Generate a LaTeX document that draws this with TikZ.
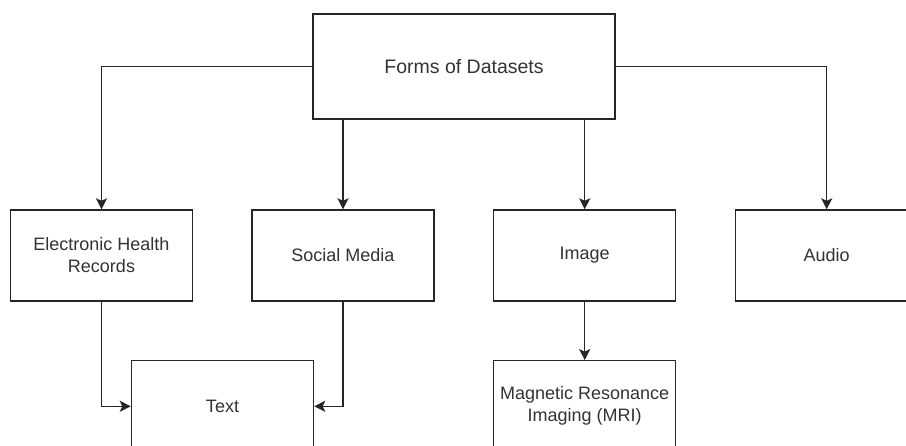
\documentclass[tikz,border=0pt]{standalone}
\usepackage{fontspec}
\setmainfont{Liberation Sans}
\usetikzlibrary{arrows.meta}

\begin{document}
\begin{tikzpicture}[x=1pt,y=-1pt,
    box/.style={draw=black!85,line width=1.4pt,fill=white,text=black!80,
        minimum width=182pt,minimum height=91pt,align=center,
        font=\fontsize{18}{22}\selectfont},
    arr/.style={draw=black!85,line width=1.4pt,
        -{Stealth[length=11pt,width=11pt,inset=2.5pt]}}]

\useasboundingbox (0,0) rectangle (906,446);

\begin{scope}
\clip (0,0) rectangle (906,446);

\node[box,minimum width=302pt,minimum height=105pt,
      font=\fontsize{19.5}{23}\selectfont] (forms) at (464,66.5) {Forms of Datasets};

\node[box] (ehr) at (101.5,255.5) {Electronic Health\\Records};
\node[box] (social) at (343,255.5) {Social Media};
\node[box] (image) at (584.7,255.5) {Image};
\node[box] (audio) at (826.7,255.5) {Audio};

\node[box] (text) at (222.5,406.3) {Text};
\node[box] (mri) at (584.7,406.3) {Magnetic Resonance\\Imaging (MRI)};

\draw[arr] (forms.west) -| (ehr.north);
\draw[arr] (social.north |- forms.south) -- (social.north);
\draw[arr] (image.north |- forms.south) -- (image.north);
\draw[arr] (forms.east) -| (audio.north);

\draw[arr] (ehr.south) |- (text.west);
\draw[arr] (social.south) |- (text.east);
\draw[arr] (image.south) -- (mri.north);

\end{scope}
\end{tikzpicture}
\end{document}
